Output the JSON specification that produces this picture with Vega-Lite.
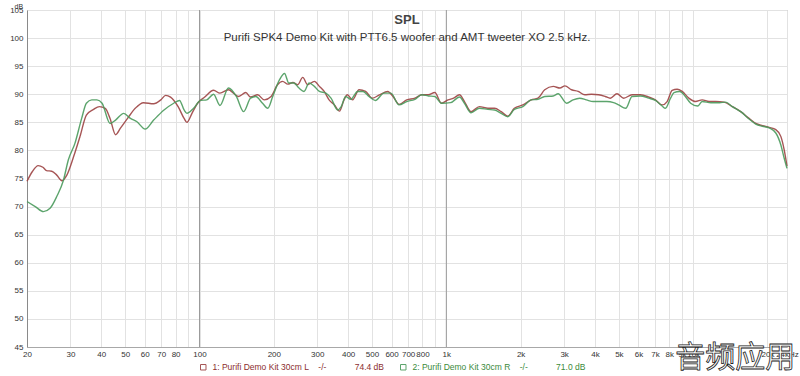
{
  "$schema": "https://vega.github.io/schema/vega-lite/v6.json",
  "width": 760,
  "height": 337,
  "autosize": {"type": "none"},
  "padding": {"left": 27, "top": 10, "right": 13, "bottom": 29},
  "background": "white",
  "config": {
    "font": "Liberation Sans",
    "view": {"stroke": "#a8a8a8", "strokeWidth": 1}
  },
  "title": {
    "text": "SPL",
    "subtitle": "Purifi SPK4 Demo Kit with PTT6.5 woofer and AMT tweeter XO 2.5 kHz.",
    "anchor": "middle",
    "offset": -41,
    "fontSize": 13,
    "fontWeight": "bold",
    "color": "#444444",
    "subtitleFontSize": 11.5,
    "subtitleColor": "#333333",
    "subtitlePadding": 5
  },
  "resolve": {"axis": {"x": "independent", "y": "independent"}},
  "layer": [
    {
      "data": {"values": [{"f": 100}, {"f": 1000}]},
      "mark": {"type": "rule", "color": "#9a9a9a", "strokeWidth": 1},
      "encoding": {
        "x": {"field": "f", "type": "quantitative", "scale": {"type": "log", "domain": [20, 24000], "nice": false}, "axis": null}
      }
    },
    {
      "data": {
        "values": [
          {"f":20,"db":74.5,"s":"L"},{"f":21,"db":76.2,"s":"L"},{"f":22.2,"db":77.3,"s":"L"},{"f":23.2,"db":77.0,"s":"L"},{"f":24,"db":76.4,"s":"L"},{"f":25.2,"db":76.3,"s":"L"},{"f":26.4,"db":75.6,"s":"L"},{"f":27.7,"db":74.6,"s":"L"},{"f":29,"db":75.6,"s":"L"},{"f":30.9,"db":78.9,"s":"L"},{"f":32.8,"db":82.5,"s":"L"},{"f":34.8,"db":86.3,"s":"L"},{"f":37.2,"db":87.3,"s":"L"},{"f":39.3,"db":87.8,"s":"L"},{"f":41.5,"db":87.5,"s":"L"},{"f":43.4,"db":85.7,"s":"L"},{"f":45.7,"db":82.8,"s":"L"},{"f":47.9,"db":84.0,"s":"L"},{"f":51.1,"db":85.7,"s":"L"},{"f":54.9,"db":87.5,"s":"L"},{"f":59.3,"db":88.5,"s":"L"},{"f":65.2,"db":88.3,"s":"L"},{"f":69.7,"db":89.0,"s":"L"},{"f":72.9,"db":89.8,"s":"L"},{"f":76.3,"db":89.5,"s":"L"},{"f":81.9,"db":87.8,"s":"L"},{"f":86.6,"db":85.7,"s":"L"},{"f":88.9,"db":85.0,"s":"L"},{"f":93.2,"db":86.6,"s":"L"},{"f":98.2,"db":88.4,"s":"L"},{"f":105,"db":89.5,"s":"L"},{"f":114,"db":90.7,"s":"L"},{"f":121,"db":90.2,"s":"L"},{"f":131,"db":90.8,"s":"L"},{"f":138,"db":90.1,"s":"L"},{"f":144,"db":89.6,"s":"L"},{"f":154,"db":90.3,"s":"L"},{"f":161,"db":89.5,"s":"L"},{"f":172,"db":89.9,"s":"L"},{"f":183,"db":89.0,"s":"L"},{"f":195,"db":89.6,"s":"L"},{"f":207,"db":91.7,"s":"L"},{"f":217,"db":92.3,"s":"L"},{"f":228,"db":91.8,"s":"L"},{"f":239,"db":92.1,"s":"L"},{"f":250,"db":91.7,"s":"L"},{"f":262,"db":93.0,"s":"L"},{"f":274,"db":91.7,"s":"L"},{"f":292,"db":92.3,"s":"L"},{"f":306,"db":91.4,"s":"L"},{"f":320,"db":90.5,"s":"L"},{"f":335,"db":89.0,"s":"L"},{"f":352,"db":88.1,"s":"L"},{"f":369,"db":87.0,"s":"L"},{"f":385,"db":89.0,"s":"L"},{"f":397,"db":89.9,"s":"L"},{"f":417,"db":89.0,"s":"L"},{"f":443,"db":90.8,"s":"L"},{"f":471,"db":90.5,"s":"L"},{"f":501,"db":89.3,"s":"L"},{"f":536,"db":89.9,"s":"L"},{"f":579,"db":90.5,"s":"L"},{"f":608,"db":89.6,"s":"L"},{"f":643,"db":88.2,"s":"L"},{"f":691,"db":89.0,"s":"L"},{"f":746,"db":89.3,"s":"L"},{"f":795,"db":89.9,"s":"L"},{"f":845,"db":89.9,"s":"L"},{"f":898,"db":90.3,"s":"L"},{"f":956,"db":88.4,"s":"L"},{"f":1016,"db":89.0,"s":"L"},{"f":1070,"db":89.3,"s":"L"},{"f":1130,"db":89.9,"s":"L"},{"f":1184,"db":88.7,"s":"L"},{"f":1259,"db":86.9,"s":"L"},{"f":1361,"db":87.8,"s":"L"},{"f":1474,"db":87.5,"s":"L"},{"f":1568,"db":87.5,"s":"L"},{"f":1668,"db":86.9,"s":"L"},{"f":1774,"db":86.1,"s":"L"},{"f":1886,"db":87.5,"s":"L"},{"f":2042,"db":88.1,"s":"L"},{"f":2209,"db":89.0,"s":"L"},{"f":2350,"db":89.3,"s":"L"},{"f":2504,"db":90.8,"s":"L"},{"f":2711,"db":91.4,"s":"L"},{"f":2886,"db":91.1,"s":"L"},{"f":3024,"db":91.5,"s":"L"},{"f":3216,"db":90.8,"s":"L"},{"f":3421,"db":90.5,"s":"L"},{"f":3640,"db":89.9,"s":"L"},{"f":3873,"db":90.0,"s":"L"},{"f":4138,"db":89.9,"s":"L"},{"f":4402,"db":89.6,"s":"L"},{"f":4614,"db":89.3,"s":"L"},{"f":4912,"db":90.1,"s":"L"},{"f":5231,"db":89.3,"s":"L"},{"f":5654,"db":89.9,"s":"L"},{"f":6110,"db":89.9,"s":"L"},{"f":6608,"db":89.5,"s":"L"},{"f":7031,"db":89.0,"s":"L"},{"f":7486,"db":88.1,"s":"L"},{"f":7844,"db":88.7,"s":"L"},{"f":8220,"db":90.7,"s":"L"},{"f":8614,"db":90.9,"s":"L"},{"f":9024,"db":90.5,"s":"L"},{"f":9610,"db":89.3,"s":"L"},{"f":10220,"db":88.7,"s":"L"},{"f":10880,"db":89.0,"s":"L"},{"f":11590,"db":88.7,"s":"L"},{"f":12330,"db":88.7,"s":"L"},{"f":13340,"db":88.6,"s":"L"},{"f":14410,"db":87.8,"s":"L"},{"f":15580,"db":86.9,"s":"L"},{"f":16850,"db":85.7,"s":"L"},{"f":17930,"db":84.8,"s":"L"},{"f":19090,"db":84.4,"s":"L"},{"f":20320,"db":84.1,"s":"L"},{"f":21620,"db":83.7,"s":"L"},{"f":22650,"db":82.5,"s":"L"},{"f":23380,"db":80.1,"s":"L"},{"f":24000,"db":77.2,"s":"L"},
          {"f":20,"db":70.9,"s":"R"},{"f":21.6,"db":70.0,"s":"R"},{"f":23.3,"db":69.1,"s":"R"},{"f":24.8,"db":69.7,"s":"R"},{"f":26.4,"db":71.8,"s":"R"},{"f":28.1,"db":74.7,"s":"R"},{"f":29.4,"db":78.3,"s":"R"},{"f":31.3,"db":81.3,"s":"R"},{"f":33.3,"db":85.7,"s":"R"},{"f":34.8,"db":88.4,"s":"R"},{"f":36.6,"db":89.0,"s":"R"},{"f":38.4,"db":89.0,"s":"R"},{"f":40.3,"db":88.4,"s":"R"},{"f":43.4,"db":84.8,"s":"R"},{"f":45.7,"db":85.4,"s":"R"},{"f":49.3,"db":86.6,"s":"R"},{"f":52.5,"db":85.7,"s":"R"},{"f":55.8,"db":85.1,"s":"R"},{"f":60.2,"db":83.8,"s":"R"},{"f":65.2,"db":85.4,"s":"R"},{"f":71.8,"db":87.2,"s":"R"},{"f":78.6,"db":88.4,"s":"R"},{"f":83,"db":88.9,"s":"R"},{"f":86.6,"db":87.2,"s":"R"},{"f":88.9,"db":86.6,"s":"R"},{"f":94.6,"db":87.5,"s":"R"},{"f":101,"db":88.9,"s":"R"},{"f":107,"db":89.0,"s":"R"},{"f":114,"db":90.0,"s":"R"},{"f":121,"db":88.0,"s":"R"},{"f":131,"db":91.1,"s":"R"},{"f":141,"db":89.6,"s":"R"},{"f":151,"db":86.9,"s":"R"},{"f":161,"db":89.3,"s":"R"},{"f":169,"db":89.6,"s":"R"},{"f":180,"db":88.4,"s":"R"},{"f":189,"db":87.5,"s":"R"},{"f":198,"db":89.6,"s":"R"},{"f":211,"db":92.6,"s":"R"},{"f":221,"db":93.7,"s":"R"},{"f":230,"db":92.0,"s":"R"},{"f":241,"db":92.0,"s":"R"},{"f":253,"db":91.1,"s":"R"},{"f":265,"db":90.5,"s":"R"},{"f":278,"db":92.0,"s":"R"},{"f":292,"db":91.4,"s":"R"},{"f":306,"db":90.5,"s":"R"},{"f":325,"db":90.2,"s":"R"},{"f":341,"db":89.3,"s":"R"},{"f":363,"db":87.2,"s":"R"},{"f":375,"db":87.8,"s":"R"},{"f":391,"db":89.6,"s":"R"},{"f":410,"db":89.1,"s":"R"},{"f":437,"db":90.5,"s":"R"},{"f":460,"db":90.5,"s":"R"},{"f":486,"db":89.6,"s":"R"},{"f":516,"db":88.9,"s":"R"},{"f":559,"db":90.2,"s":"R"},{"f":596,"db":90.2,"s":"R"},{"f":643,"db":88.1,"s":"R"},{"f":691,"db":88.7,"s":"R"},{"f":746,"db":89.1,"s":"R"},{"f":795,"db":89.9,"s":"R"},{"f":845,"db":89.7,"s":"R"},{"f":898,"db":89.6,"s":"R"},{"f":956,"db":88.4,"s":"R"},{"f":1040,"db":88.5,"s":"R"},{"f":1130,"db":89.5,"s":"R"},{"f":1184,"db":88.4,"s":"R"},{"f":1259,"db":86.7,"s":"R"},{"f":1361,"db":87.5,"s":"R"},{"f":1474,"db":87.3,"s":"R"},{"f":1568,"db":87.2,"s":"R"},{"f":1668,"db":86.6,"s":"R"},{"f":1774,"db":86.0,"s":"R"},{"f":1886,"db":87.3,"s":"R"},{"f":2042,"db":87.8,"s":"R"},{"f":2209,"db":89.0,"s":"R"},{"f":2350,"db":89.1,"s":"R"},{"f":2504,"db":89.6,"s":"R"},{"f":2711,"db":89.7,"s":"R"},{"f":2837,"db":90.1,"s":"R"},{"f":3071,"db":88.4,"s":"R"},{"f":3262,"db":89.0,"s":"R"},{"f":3470,"db":89.3,"s":"R"},{"f":3693,"db":89.0,"s":"R"},{"f":3935,"db":88.7,"s":"R"},{"f":4138,"db":88.7,"s":"R"},{"f":4470,"db":88.7,"s":"R"},{"f":4760,"db":88.5,"s":"R"},{"f":4990,"db":88.1,"s":"R"},{"f":5330,"db":87.5,"s":"R"},{"f":5654,"db":89.6,"s":"R"},{"f":6110,"db":89.7,"s":"R"},{"f":6608,"db":89.3,"s":"R"},{"f":7031,"db":88.9,"s":"R"},{"f":7486,"db":87.9,"s":"R"},{"f":7720,"db":87.5,"s":"R"},{"f":8100,"db":89.3,"s":"R"},{"f":8360,"db":90.3,"s":"R"},{"f":8820,"db":90.5,"s":"R"},{"f":9300,"db":89.6,"s":"R"},{"f":9770,"db":88.4,"s":"R"},{"f":10420,"db":87.9,"s":"R"},{"f":10880,"db":88.7,"s":"R"},{"f":11800,"db":88.5,"s":"R"},{"f":12800,"db":88.5,"s":"R"},{"f":13540,"db":88.6,"s":"R"},{"f":14410,"db":87.8,"s":"R"},{"f":15580,"db":86.9,"s":"R"},{"f":16850,"db":85.6,"s":"R"},{"f":17930,"db":84.7,"s":"R"},{"f":19090,"db":84.3,"s":"R"},{"f":20320,"db":84.0,"s":"R"},{"f":21620,"db":83.1,"s":"R"},{"f":22650,"db":81.0,"s":"R"},{"f":23380,"db":78.6,"s":"R"},{"f":24000,"db":76.8,"s":"R"}
        ]
      },
      "mark": {"type": "line", "interpolate": "monotone", "strokeWidth": 1.4, "opacity": 0.9},
      "encoding": {
        "x": {
          "field": "f", "type": "quantitative",
          "scale": {"type": "log", "domain": [20, 24000], "nice": false},
          "axis": {
            "title": null,
            "values": [20,30,40,50,60,70,80,90,100,200,300,400,500,600,700,800,900,1000,2000,3000,4000,5000,6000,7000,8000,9000,10000,20000,24000],
            "labelExpr": "datum.value == 90 || datum.value == 900 ? '' : datum.value == 24000 ? '24kHz' : datum.value >= 1000 ? (datum.value / 1000) + 'k' : datum.label",
            "grid": true, "gridColor": "#e2e2e2", "gridWidth": 1,
            "ticks": false, "domain": true, "domainColor": "#a8a8a8",
            "labelFontSize": 8, "labelColor": "#333333", "labelPadding": 3,
            "labelOverlap": false, "labelFlush": false
          }
        },
        "y": {
          "field": "db", "type": "quantitative",
          "scale": {"domain": [45, 105], "nice": false, "zero": false},
          "axis": {
            "title": "dB", "titleAngle": 0, "titleX": -13, "titleY": -1,
            "titleFontSize": 7, "titleFontWeight": "normal", "titleColor": "#333333",
            "titleAlign": "left", "titleBaseline": "bottom",
            "values": [45,50,55,60,65,70,75,80,85,90,95,100,105],
            "labelOverlap": false, "labelFlush": false, "labelBound": false,
            "grid": true, "gridColor": "#e2e2e2", "gridWidth": 1,
            "ticks": false, "domain": true, "domainColor": "#8a8a8a",
            "labelFontSize": 8, "labelColor": "#333333", "labelPadding": 4
          }
        },
        "color": {
          "field": "s", "type": "nominal",
          "scale": {"domain": ["L", "R"], "range": ["#9c4343", "#4a9a5c"]},
          "legend": {
            "orient": "none", "legendX": 172, "legendY": 353,
            "direction": "horizontal", "title": null,
            "symbolType": "square", "symbolSize": 30, "symbolStrokeWidth": 1,
            "labelFontSize": 8.5, "columnPadding": 14, "labelOffset": 5,
            "labelLimit": 400,
            "labelColor": {"expr": "datum.value == 'L' ? '#8b2d2d' : '#3a8a3a'"},
            "labelExpr": "datum.value == 'L' ? '1: Purifi Demo Kit 30cm L\u00a0\u00a0\u00a0\u00a0-/-\u00a0\u00a0\u00a0\u00a0\u00a0\u00a0\u00a0\u00a0\u00a0\u00a0\u00a0\u00a074.4 dB' : '2: Purifi Demo Kit 30cm R\u00a0\u00a0\u00a0\u00a0-/-\u00a0\u00a0\u00a0\u00a0\u00a0\u00a0\u00a0\u00a0\u00a0\u00a0\u00a0\u00a071.0 dB'"
          }
        }
      }
    },
    {
      "data": {"values": [{"f": 14800, "db": 43.0, "t": "音频应用"}]},
      "mark": {"type": "text", "font": "Noto Sans CJK SC", "fontSize": 30, "fill": "white", "stroke": "#222222", "strokeWidth": 0.8, "baseline": "middle", "align": "center", "clip": false},
      "encoding": {
        "x": {"field": "f", "type": "quantitative", "scale": {"type": "log", "domain": [20, 24000], "nice": false}, "axis": null},
        "y": {"field": "db", "type": "quantitative", "scale": {"domain": [45, 105], "nice": false, "zero": false}, "axis": null},
        "text": {"field": "t"}
      }
    }
  ]
}
